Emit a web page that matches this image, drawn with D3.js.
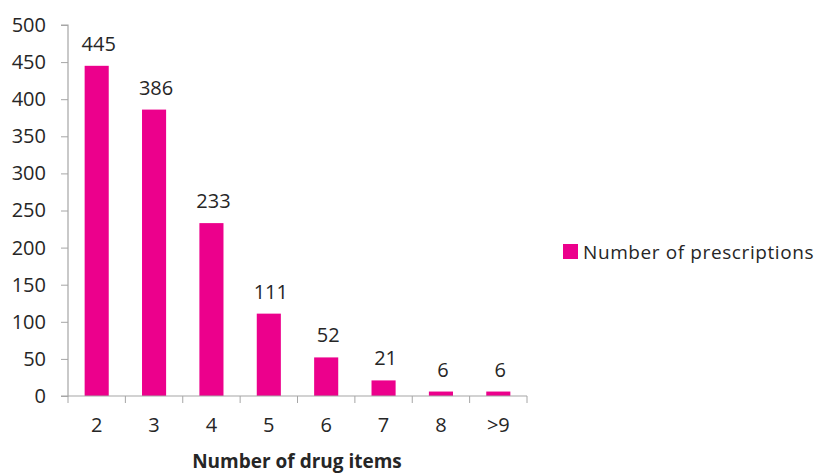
<!DOCTYPE html>
<html>
<head>
<meta charset="utf-8">
<script src="https://cdn.jsdelivr.net/npm/d3@7"></script>
<style>
  body { margin: 0; background: #fff; }
  text { font-family: "Open Sans", "Noto Sans", sans-serif; fill: #262626; }
</style>
</head>
<body>
<script>
// data
var categories = ["2", "3", "4", "5", "6", "7", "8", ">9"];
var prescriptions = [445, 386, 233, 111, 52, 21, 6, 6];
var yTicks = [0, 50, 100, 150, 200, 250, 300, 350, 400, 450, 500];

// plot area
var W = 816, H = 473;
var plotLeft = 68, plotRight = 527, plotTop = 25, plotBottom = 396;

var svg = d3.select("body").append("svg")
    .attr("width", W)
    .attr("height", H);

var x = d3.scaleBand().domain(categories).range([plotLeft, plotRight])
    .paddingInner(0.58).paddingOuter(0.29);
var y = d3.scaleLinear().domain([0, 500]).range([plotBottom, plotTop]);

// bars
svg.selectAll("rect.bar")
    .data(prescriptions)
    .enter().append("rect")
    .attr("class", "bar")
    .attr("x", function(d, i) { return x(categories[i]); })
    .attr("y", function(d) { return y(d); })
    .attr("width", x.bandwidth())
    .attr("height", function(d) { return plotBottom - y(d); })
    .attr("fill", "#ec008c");

// value labels
svg.selectAll("text.val")
    .data(prescriptions)
    .enter().append("text")
    .attr("class", "val")
    .attr("x", function(d, i) { return x(categories[i]) + x.bandwidth() / 2 + 2; })
    .attr("y", function(d) { return y(d) - 15; })
    .attr("text-anchor", "middle")
    .style("font-size", "20px")
    .text(function(d) { return d; });

// y axis
var yAxis = svg.append("g")
    .attr("transform", "translate(" + plotLeft + ",0)")
    .call(d3.axisLeft(y).tickValues(yTicks).tickSize(7).tickPadding(15));

// x axis - tick marks sit on the band boundaries
var xAxis = svg.append("g")
    .attr("transform", "translate(0," + plotBottom + ")")
    .call(d3.axisBottom(x).tickSize(0).tickPadding(22));

var step = x.step();
var bounds = d3.range(categories.length + 1).map(function(i) { return plotLeft + i * step; });
xAxis.selectAll("line.bound")
    .data(bounds)
    .enter().append("line")
    .attr("class", "bound")
    .attr("x1", function(d) { return d; })
    .attr("x2", function(d) { return d; })
    .attr("y1", 0)
    .attr("y2", 7)
    .attr("stroke", "#a6a6a6");

[yAxis, xAxis].forEach(function(g) {
    g.select(".domain").attr("stroke", "#a6a6a6").attr("stroke-width", 1.2);
    g.selectAll(".tick line").attr("stroke", "#a6a6a6");
    g.selectAll(".tick text").style("font-size", "20px").attr("fill", "#262626")
        .style("font-family", "'Open Sans', sans-serif");
});
yAxis.select(".domain").attr("d", "M-7," + plotTop + "H0V" + plotBottom + "H-7");
xAxis.select(".domain").attr("d", "M" + plotLeft + ",0H" + plotRight);

// x axis title
svg.append("text")
    .attr("x", 297)
    .attr("y", 468)
    .attr("text-anchor", "middle")
    .style("font-size", "19px")
    .style("font-weight", "bold")
    .text("Number of drug items");

// legend
svg.append("rect")
    .attr("x", 563).attr("y", 244)
    .attr("width", 15).attr("height", 15)
    .attr("fill", "#ec008c");
svg.append("text")
    .attr("x", 583).attr("y", 259)
    .style("font-size", "19px")
    .style("letter-spacing", "0.6px")
    .text("Number of prescriptions");
</script>
</body>
</html>
